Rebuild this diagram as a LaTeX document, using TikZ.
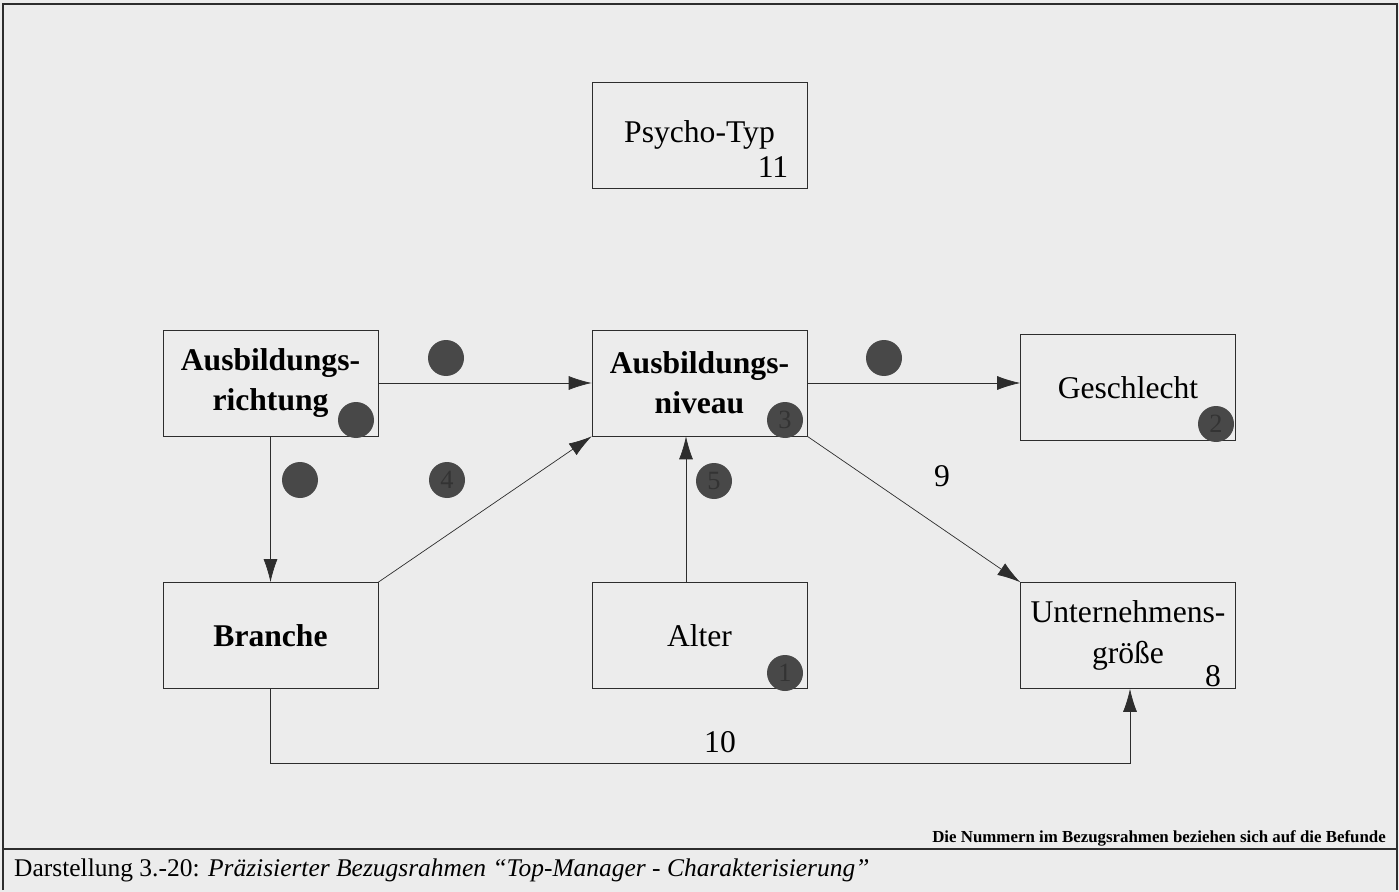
\documentclass[tikz,border=0pt]{standalone}
\usepackage{fontspec}
\setmainfont{Liberation Serif}
\usetikzlibrary{arrows.meta}
\definecolor{paper}{RGB}{236,236,236}
\definecolor{ink}{RGB}{45,45,45}
\definecolor{dotgray}{RGB}{72,72,72}

\begin{document}
\begin{tikzpicture}[x=0.02cm, y=-0.02cm,
    box/.style={draw=ink, fill=paper, minimum width=4.3cm, minimum height=2.12cm,
        align=center, inner sep=0pt, font=\fontsize{18}{23}\selectfont},
    dot/.style={circle, fill=dotgray, minimum size=0.72cm, inner sep=0pt,
        text=black!80, font=\fontsize{15}{15}\selectfont},
    link/.style={draw=ink, -{Latex[length=0.46cm, width=0.28cm]}},
    num/.style={font=\fontsize{18}{18}\selectfont}]

    % Page
    \fill[paper] (0,0) rectangle (1399,892);
    \draw[ink, line width=1pt] (3,890) -- (3,4) -- (1397,4) -- (1397,890);
    \draw[ink, line width=1.6pt] (3,849) -- (1397,849);

    % Boxes
    \node[box] (psy) at (699.5,135) {Psycho-Typ};
    \node[box, font=\fontsize{18}{23}\selectfont\bfseries] (richt) at (270.5,383) {Ausbildungs-\\richtung};
    \node[box, font=\fontsize{18}{23}\selectfont\bfseries] (niveau) at (699.5,383) {Ausbildungs-\\niveau};
    \node[box] (gesch) at (1128,387.5) {Geschlecht};
    \node[box, font=\fontsize{18}{23}\selectfont\bfseries] (branche) at (270.5,635.5) {Branche};
    \node[box] (alter) at (699.5,635.5) {Alter};
    \node[box] (ug) at (1128,635.5) {Unternehmens-\\größe};

    % Numbers in the boxes
    \node[num] (n11) at (773,167) {11};
    \node[num] (n8) at (1213,676) {8};

    % Arrows
    \draw[link] (richt) -- (niveau);
    \draw[link] (niveau.east) -- (niveau.east -| gesch.west);
    \draw[link] (richt) -- (branche);
    \draw[link] (branche.north east) -- (niveau.south west);
    \draw[link] ([xshift=-0.27cm]alter.north) -- ([xshift=-0.27cm]niveau.south);
    \draw[link] (niveau.south east) -- (ug.north west);
    \coordinate (bend) at (1130,763);
    \draw[link] (branche.south) |- (bend) -- (bend |- ug.south);

    % Labels
    \node[num] (n9) at (942,476) {9};
    \node[num] (n10) at (720,742) {10};

    % Marked findings
    \node[dot] (d1) at (785,673) {1};
    \node[dot] (d2) at (1216,424) {2};
    \node[dot] (d3) at (785,420) {3};
    \node[dot] (d4) at (447,480) {4};
    \node[dot] (d5) at (714,481) {5};
    \node[dot] (da) at (356,420) {};
    \node[dot] (db) at (446,358) {};
    \node[dot] (dc) at (884,358) {};
    \node[dot] (dd) at (300,480) {};

    % Footnote and caption
    \node[anchor=east, font=\fontsize{9.6}{10}\selectfont\bfseries] (note) at (1392,838)
        {Die Nummern im Bezugsrahmen beziehen sich auf die Befunde};
    \node[anchor=west, font=\fontsize{14.5}{16}\selectfont] (cap) at (8,870)
        {Darstellung 3.-20: \textit{Präzisierter Bezugsrahmen “Top-Manager - Charakterisierung”}};
\end{tikzpicture}
\end{document}
